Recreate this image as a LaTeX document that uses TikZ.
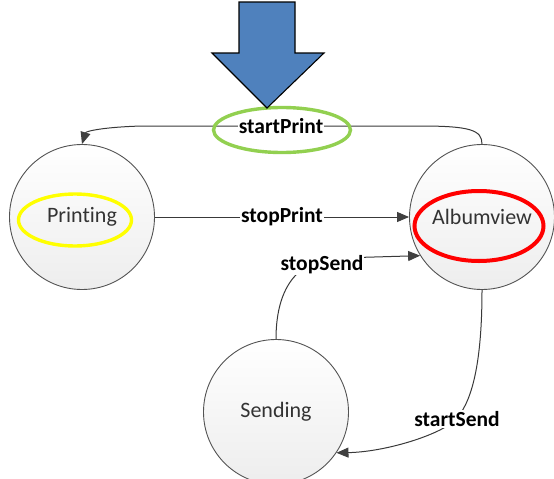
\documentclass[tikz,border=0pt]{standalone}
\usepackage{fontspec}
\setmainfont{Carlito}[Ligatures={NoCommon}]
\usetikzlibrary{arrows.meta,shapes.geometric}
\definecolor{officeblue}{HTML}{4F81BD}
\definecolor{hlgreen}{HTML}{92D050}
\definecolor{hlyellow}{HTML}{FFFF00}
\definecolor{hlred}{HTML}{FF0000}
\begin{document}
\begin{tikzpicture}[x=1pt,y=-1pt,
  state/.style={circle,minimum size=145pt,inner sep=0pt,draw=gray!65!black,
    line width=0.9pt,top color=white,bottom color=gray!14,
    font=\fontsize{22}{25}\selectfont,text=black!80},
  trans/.style={draw=gray!45!black,line width=1pt,
    -{Triangle[length=12pt,width=10pt,color=black!75]}},
  evt/.style={fill=white,inner sep=1pt,font=\bfseries\fontsize{21.5}{24}\selectfont},
  hilite/.style={ellipse,inner sep=0pt,line width=3.4pt}]
\useasboundingbox (0,0) rectangle (554,479);

% states
\node[state] (prt) at (82,217) {Printing};
\node[state] (alb) at (482,217) {Albumview};
\node[state] (snd) at (276,412) {Sending};

% transitions
\draw[trans] (alb.north) .. controls (482,130) and (470,126) .. (420,126)
  -- node[evt] (lsp) {startPrint} (142,126)
  .. controls (105,127) and (86,131) .. (prt.north);
\draw[trans] (prt) -- node[evt] (lstp) {stopPrint} (alb);
\draw[trans] (snd.north) .. controls (276,285) and (300,258) .. (340,258)
  -- (alb.212);
\node[evt] (lss) at (322,265) {stopSend};
\draw[trans] (alb.south) .. controls (482,370) and (470,405) .. (455,420)
  .. controls (440,435) and (385,452) .. (snd.-34);
\node[evt] (lsd) at (457,419) {startSend};

% highlight rings
\node[hilite,draw=hlgreen,minimum width=137pt,minimum height=45pt] (hg) at (282,130) {};
\node[hilite,draw=hlyellow,minimum width=113pt,minimum height=52pt] (hy) at (75,220) {};
\node[hilite,draw=hlred,minimum width=129pt,minimum height=70pt,line width=4pt] (hr) at (479,226) {};

% big pointer arrow
\draw[fill=officeblue,draw=black,line width=1.1pt,line join=miter]
  (239,2) -- (295,2) -- (295,53) -- (324,53) -- (267,108) -- (212,53) -- (239,53) -- cycle;
\end{tikzpicture}
\end{document}
